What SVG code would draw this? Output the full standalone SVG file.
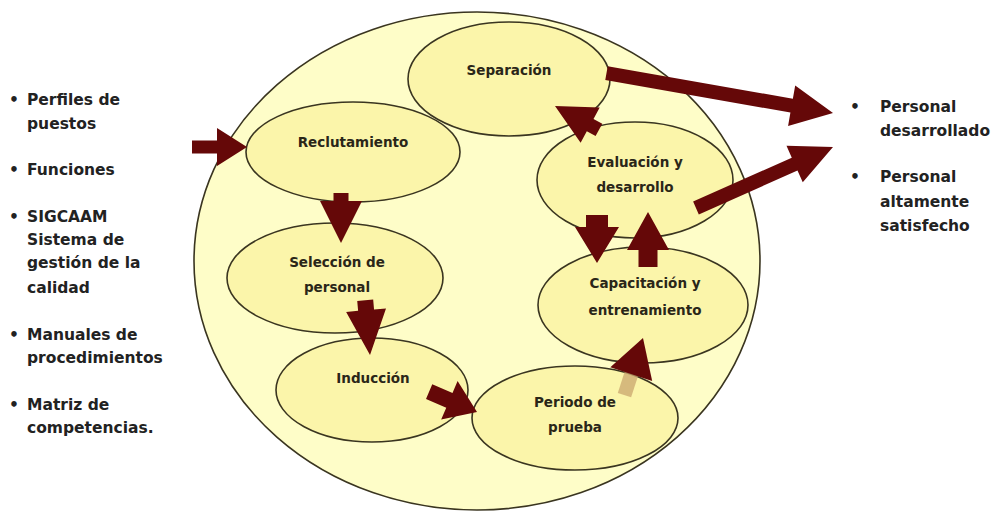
<svg xmlns="http://www.w3.org/2000/svg" width="998" height="512" viewBox="0 0 998 512">
  <style>
    .outer { fill: #FEFDC8; stroke: #3a3520; stroke-width: 1.6; }
    .node ellipse { fill: #F8EE8C; fill-opacity: 0.5; stroke: #3a3520; stroke-width: 1.6; }
    .node text { font-family: "DejaVu Sans", "Liberation Sans", sans-serif; font-weight: bold; font-size: 13.5px; fill: #2a2618; text-anchor: middle; }
    .arrow { fill: #650808; }
    .fade { fill: #C9A66E; opacity: 0.75; }
    .list { font-family: "DejaVu Sans", "Liberation Sans", sans-serif; font-weight: bold; font-size: 15.5px; fill: #222; }
  </style>

  <!-- surrounding process area -->
  <ellipse class="outer" cx="477" cy="261" rx="283" ry="249"/>

  <!-- inputs -->
  <g id="inputs" class="list">
    <text x="9" y="105">•</text><text x="27" y="105">Perfiles de</text>
    <text x="27" y="129">puestos</text>
    <text x="9" y="175">•</text><text x="27" y="175">Funciones</text>
    <text x="9" y="222">•</text><text x="27" y="222">SIGCAAM</text>
    <text x="27" y="245">Sistema de</text>
    <text x="27" y="268">gestión de la</text>
    <text x="27" y="293">calidad</text>
    <text x="9" y="340">•</text><text x="27" y="340">Manuales de</text>
    <text x="27" y="363">procedimientos</text>
    <text x="9" y="410">•</text><text x="27" y="410">Matriz de</text>
    <text x="27" y="433">competencias.</text>
  </g>

  <!-- outputs -->
  <g id="outputs" class="list">
    <text x="850" y="112">•</text><text x="880" y="112">Personal</text>
    <text x="880" y="136">desarrollado</text>
    <text x="850" y="182">•</text><text x="880" y="182">Personal</text>
    <text x="880" y="207">altamente</text>
    <text x="880" y="231">satisfecho</text>
  </g>

  <!-- process stages -->
  <g id="separacion" class="node">
    <ellipse cx="509" cy="79" rx="101" ry="57"/>
    <text x="509" y="75">Separación</text>
  </g>
  <g id="reclutamiento" class="node">
    <ellipse cx="353" cy="152" rx="107" ry="50"/>
    <text x="353" y="147">Reclutamiento</text>
  </g>
  <g id="evaluacion" class="node">
    <ellipse cx="635" cy="180" rx="98" ry="58"/>
    <text x="635" y="167">Evaluación y</text>
    <text x="635" y="192">desarrollo</text>
  </g>
  <g id="seleccion" class="node">
    <ellipse cx="335" cy="278" rx="108" ry="55"/>
    <text x="337" y="267">Selección de</text>
    <text x="337" y="292">personal</text>
  </g>
  <g id="capacitacion" class="node">
    <ellipse cx="643" cy="305" rx="105" ry="58"/>
    <text x="645" y="288">Capacitación y</text>
    <text x="645" y="315">entrenamiento</text>
  </g>
  <g id="induccion" class="node">
    <ellipse cx="372" cy="390" rx="96" ry="52"/>
    <text x="373" y="383">Inducción</text>
  </g>
  <g id="periodo" class="node">
    <ellipse cx="575" cy="418" rx="103" ry="52"/>
    <text x="575" y="407">Periodo de</text>
    <text x="575" y="432">prueba</text>
  </g>

  <!-- connectors: block arrows, each drawn pointing +x with its tip at the origin -->
  <g id="connectors">
    <path class="arrow" transform="translate(247,147)" d="M-55,-6.5H-30V-19L0,0L-30,19V6.5H-55Z"/>
    <path class="arrow" transform="translate(341,243) rotate(90)" d="M-50,-7.5H-42V-21L0,0L-42,21V7.5H-50Z"/>
    <path class="arrow" transform="translate(370,355) rotate(85)" d="M-55,-8H-45V-20L0,0L-45,20V8H-55Z"/>
    <path class="arrow" transform="translate(477,412) rotate(23)" d="M-52,-8H-30V-21L0,0L-30,21V8H-52Z"/>
    <g transform="translate(643,338) rotate(-72)">
      <rect class="fade" x="-60" y="-7" width="24" height="14"/>
      <path class="arrow" d="M-38,-22L0,0L-38,22Z"/>
    </g>
    <path class="arrow" transform="translate(597,263) rotate(90)" d="M-48,-11H-36V-22L0,0L-36,22V11H-48Z"/>
    <path class="arrow" transform="translate(648,212) rotate(-90)" d="M-55,-9.5H-38V-21L0,0L-38,21V9.5H-55Z"/>
    <path class="arrow" transform="translate(555,106) rotate(-151.5)" d="M-50,-7H-40V-20L0,0L-40,20V7H-50Z"/>
    <path class="arrow" transform="translate(833,113) rotate(10)" d="M-230,-7H-42V-20.5L0,0L-42,20.5V7H-230Z"/>
    <path class="arrow" transform="translate(833,147) rotate(-24)" d="M-150,-7H-42V-20L0,0L-42,20V7H-150Z"/>
  </g>
</svg>
